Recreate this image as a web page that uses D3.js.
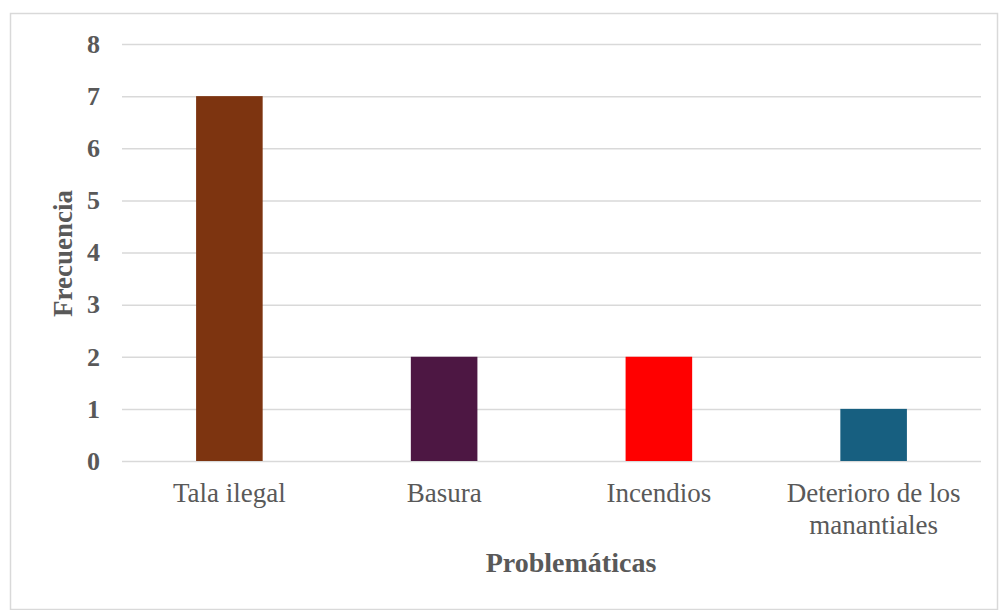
<!DOCTYPE html>
<html><head><meta charset="utf-8">
<script src="https://cdn.jsdelivr.net/npm/d3@7"></script>
<style>body{margin:0;background:#fff}</style>
</head><body>
<svg id="c" width="1002" height="610"></svg>
<script>
const categories = ["Tala ilegal", "Basura", "Incendios", "Deterioro de los manantiales"];
const labelLines = [["Tala ilegal"], ["Basura"], ["Incendios"], ["Deterioro de los", "manantiales"]];
const values = [7, 2, 2, 1];
const colors = ["#7d3410", "#4d1743", "#ff0000", "#175f80"];
const yTicks = [0, 1, 2, 3, 4, 5, 6, 7, 8];

(function () {
const svg = d3.select("#c");
svg.append("rect").attr("x", 10.5).attr("y", 13.5).attr("width", 987).attr("height", 596)
  .attr("fill", "#fff").attr("stroke", "#d9d9d9").attr("stroke-width", 1.5);

const pl = 122, pr = 981, pt = 44, pb = 461;
const x = d3.scaleBand().domain(categories).range([pl, pr]).paddingInner(0.69).paddingOuter(0.345);
const y = d3.scaleLinear().domain([0, 8]).range([pb, pt]);

const font = "'Liberation Serif','Times New Roman',serif";

const yAxis = d3.axisLeft(y).tickValues(yTicks).tickSize(-(pr - pl)).tickPadding(22).tickFormat(d3.format("d"));
const gy = svg.append("g").attr("transform", `translate(${pl},0)`).call(yAxis);
gy.select(".domain").remove();
gy.selectAll(".tick line").attr("stroke", "#d9d9d9").attr("stroke-width", 1.5);
gy.selectAll(".tick text").attr("font-family", font).attr("font-size", 26).attr("font-weight", "bold").attr("fill", "#595959");

svg.selectAll("rect.bar").data(values).enter().append("rect").attr("class", "bar")
  .attr("x", (d, i) => x(categories[i]))
  .attr("width", x.bandwidth())
  .attr("y", d => y(d))
  .attr("height", d => y(0) - y(d))
  .attr("fill", (d, i) => colors[i]);

const xAxis = d3.axisBottom(x).tickSize(0).tickFormat("");
const gx = svg.append("g").attr("transform", `translate(0,${pb})`).call(xAxis);
gx.select(".domain").remove();
gx.selectAll(".tick").each(function(d, i) {
  const t = d3.select(this).append("text").attr("fill", "#595959").attr("font-family", font)
    .attr("font-size", 27).attr("text-anchor", "middle");
  labelLines[i].forEach((ln, j) => t.append("tspan").attr("x", 0).attr("y", 41 + j * 32).text(ln));
});

svg.append("text").attr("x", 571).attr("y", 572).attr("text-anchor", "middle")
  .attr("font-family", font).attr("font-size", 28).attr("font-weight", "bold").attr("fill", "#595959").text("Problemáticas");
svg.append("text").attr("transform", `translate(72,${(pt + pb) / 2 + 1}) rotate(-90)`).attr("text-anchor", "middle")
  .attr("font-family", font).attr("font-size", 27).attr("font-weight", "bold").attr("fill", "#595959").text("Frecuencia");
})();
</script>
</body></html>
